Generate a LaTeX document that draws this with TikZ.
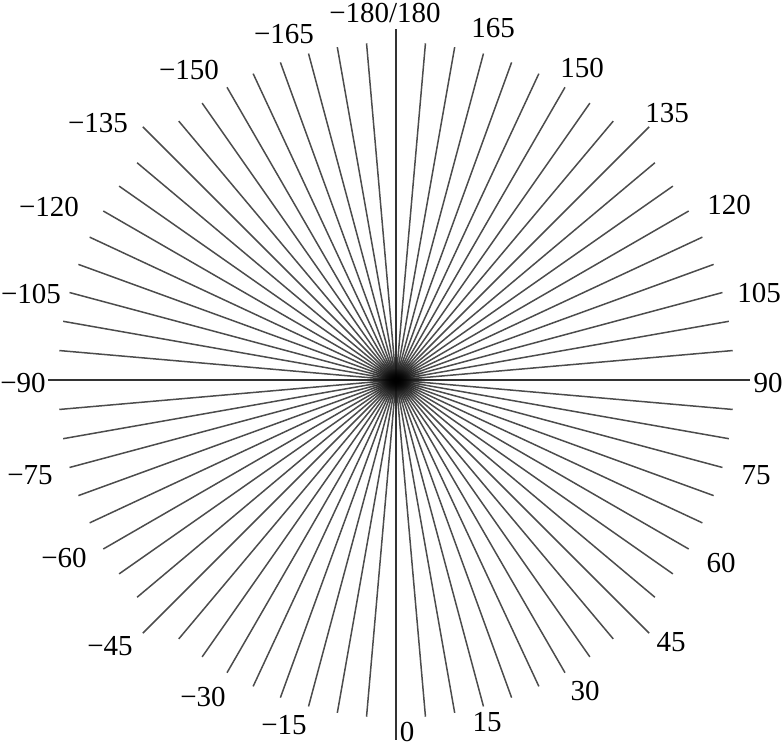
\documentclass[tikz,border=0pt]{standalone}
\usepackage{fontspec}
\setmainfont{Liberation Serif}
\usetikzlibrary{fadings}
\tikzfading[name=softdot, inner color=transparent!0, outer color=transparent!100]
\begin{document}
\begin{tikzpicture}[x=1pt,y=-1pt,
  ray/.style={line width=1.5pt, draw=black!70},
  axisline/.style={line width=1.7pt, draw=black!80},
  lbl/.style={inner sep=0pt, anchor=base, font=\fontsize{29}{30}\selectfont}]
\useasboundingbox (0,0) rectangle (782,747);
\coordinate (c) at (396,380);
% rays every 5 degrees (0 at bottom, 90 at right)
\foreach \a in {-175,-170,...,175} {
  \pgfmathtruncatemacro\m{mod(abs(\a),90)}
  \ifnum\m=0 \else
    \pgfmathtruncatemacro\n{mod(abs(\a),45)}
    \ifnum\n=0 \def\r{358}\else\def\r{338}\fi
    \draw[ray] (c) -- ++({90-(\a)}:\r) coordinate (e\a);
  \fi
}
% axes
\coordinate (top) at (396,29);
\coordinate (bottom) at (396,740);
\coordinate (left) at (48,380);
\coordinate (right) at (750,380);
\draw[axisline] (c) -- (top);
\draw[axisline] (c) -- (bottom);
\draw[axisline] (c) -- (left);
\draw[axisline] (c) -- (right);
% dark convergence blob
\fill[black, path fading=softdot] (c) ellipse [x radius=30, y radius=24];
\fill[black, path fading=softdot] (c) ellipse [x radius=16, y radius=12];
% labels
\node[lbl] (l180) at (385,22) {−180/180};
\foreach \x/\y/\t [count=\i] in {
  493/37/165, 284/43/−165, 582/77/150, 189/79/−150,
  667/122/135, 98/132/−135, 729/214/120, 49/216/−120,
  759/302/105, 31/303/−105, 768/392/90, 23/392/−90,
  756/484/75, 30/484/−75, 721/572/60, 64/567/−60,
  671/651/45, 110/655/−45, 585/700/30, 203/706/−30,
  487/731/15, 284/734/−15, 407/741/0} {
  \node[lbl] (l\i) at (\x,\y) {\t};
}
\end{tikzpicture}
\end{document}
